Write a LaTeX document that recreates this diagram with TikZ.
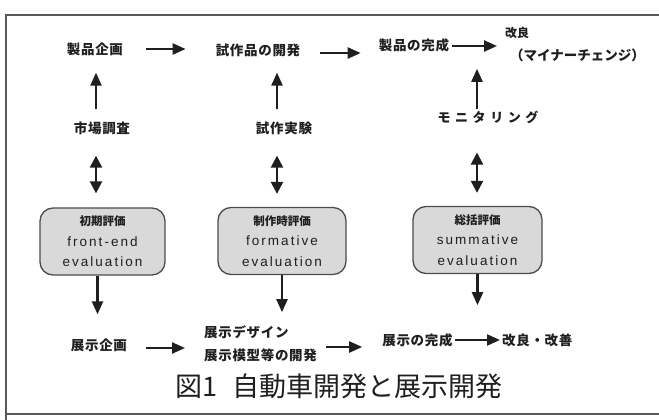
\documentclass[tikz,border=0pt]{standalone}
\usepackage{fontspec}
\usetikzlibrary{arrows.meta}
\newfontfamily\jp{Noto Sans CJK JP}[LetterSpace=5]
\newfontfamily\jpk{Noto Sans CJK JP}[LetterSpace=35]
\newfontfamily\jpn{Noto Sans CJK JP}
\newfontfamily\lsans{Liberation Sans}[LetterSpace=15]
\definecolor{ink}{gray}{0.12}
\definecolor{boxfill}{gray}{0.85}
\tikzset{
  lbl/.style={inner sep=0pt, text=ink, font=\jp\bfseries\fontsize{13.5}{14}\selectfont},
  arr/.style={draw=ink, line width=2.3pt, -{Triangle[length=13pt,width=11pt]}},
  darr/.style={draw=ink, line width=2.3pt, {Triangle[length=12pt,width=12pt]}-{Triangle[length=12pt,width=12pt]}},
  evalbox/.style={draw=black!70, line width=1.3pt, fill=boxfill, rounded corners=13pt,
    minimum height=67pt, align=center, text=ink,
    font=\lsans\fontsize{13.5}{20.5}\selectfont},
  frame/.style={draw=black!65, line width=1.6pt}
}
\begin{document}
\begin{tikzpicture}[x=1pt,y=-1pt]
\useasboundingbox (0,0) rectangle (659,420);
% frame
\draw[frame] (6,420) -- (6,15) -- (659,15);
\draw[frame] (6,414) -- (659,414);

% row 1
\node[lbl] (n1) at (95,49) {製品企画};
\node[lbl] (n2) at (258,50) {試作品の開発};
\node[lbl] (n3) at (414,45) {製品の完成};
\node[lbl, anchor=west, font=\jpn\bfseries\fontsize{12}{14}\selectfont] (n4) at (505,33) {改良};
\node[lbl, anchor=west, font=\jpn\bfseries\fontsize{13.5}{14}\selectfont] (n5) at (510,55) {（マイナーチェンジ）};

% row 2
\node[lbl] (m1) at (102,128) {市場調査};
\node[lbl] (m2) at (284,128) {試作実験};
\node[lbl, font=\jpk\bfseries\fontsize{13}{14}\selectfont] (m3) at (488,117) {モニタリング};

% evaluation boxes
\node[evalbox, minimum width=125pt] (b1) at (102.5,241.5) {{\jpn\bfseries\fontsize{11.5}{20.5}\selectfont 初期評価}\\front-end\\evaluation};
\node[evalbox, minimum width=128pt] (b2) at (282,241) {{\jpn\bfseries\fontsize{11.5}{20.5}\selectfont 制作時評価}\\formative\\evaluation};
\node[evalbox, minimum width=129pt] (b3) at (477.5,240) {{\jpn\bfseries\fontsize{11.5}{20.5}\selectfont 総括評価}\\summative\\evaluation};

% row 3
\node[lbl] (p1) at (99,345) {展示企画};
\node[lbl, anchor=west, align=left, font=\jp\bfseries\fontsize{13.5}{23}\selectfont] (p2) at (204,343.5) {展示デザイン\\展示模型等の開発};
\node[lbl] (p4) at (417.5,340) {展示の完成};
\node[lbl, anchor=west] (p5) at (502,340) {改良・改善};

% caption
\node[inner sep=0pt, text=ink, font=\jpn\fontsize{27}{30}\selectfont] (cap) at (339,386) {図1\hspace{0.55em}自動車開発と展示開発};

% top row arrows
\draw[arr, shorten <=23pt, shorten >=30pt] (n1.east) -- (n1.east -| n2.west);
\draw[arr, shorten <=20pt, shorten >=18pt] ([yshift=-3pt]n2.east) -- ([yshift=-3pt]n2.east -| n3.west);
\draw[arr, shorten <=3pt, shorten >=8pt] ([yshift=-1pt]n3.east) -- ([yshift=-1pt]n3.east -| n4.west);

% up arrows
\draw[arr, shorten <=12pt, shorten >=17pt] ([xshift=-6pt]m1.north) -- ([xshift=-6pt]m1.north |- n1.south);
\draw[arr, shorten <=12pt, shorten >=16pt] ([xshift=-7pt]m2.north) -- ([xshift=-7pt]m2.north |- n2.south);
\draw[arr, shorten <=1pt, shorten >=17pt] ([xshift=-11pt]m3.north) -- ([xshift=-11pt]m3.north |- n3.south);

% double arrows
\draw[darr, shorten <=21pt, shorten >=14pt] ([xshift=-6pt]m1.south) -- ([xshift=-6pt]m1.south |- b1.north);
\draw[darr, shorten <=21pt, shorten >=13pt] ([xshift=-7pt]m2.south) -- ([xshift=-7pt]m2.south |- b2.north);
\draw[darr, shorten <=29pt, shorten >=13pt] ([xshift=-11pt]m3.south) -- ([xshift=-11pt]m3.south |- b3.north);

% down arrows
\draw[arr, shorten >=24pt] ([xshift=-5pt]b1.south) -- ([xshift=-5pt]b1.south |- p1.north);
\draw[arr, shorten >=13pt] (b2.south) -- (b2.south |- p2.north);
\draw[arr, shorten >=28pt] (b3.south) -- (b3.south |- p4.north);

% bottom row arrows
\draw[arr, shorten <=19pt, shorten >=19pt] ([yshift=-3pt]p1.east) -- ([yshift=-3pt]p1.east -| p2.west);
\draw[arr, shorten <=9pt, shorten >=20pt] ([yshift=-3.5pt]p2.east) -- ([yshift=-3.5pt]p2.east -| p4.west);
\draw[arr, shorten <=2pt, shorten >=2pt] (p4.east) -- (p4.east -| p5.west);
\end{tikzpicture}
\end{document}
